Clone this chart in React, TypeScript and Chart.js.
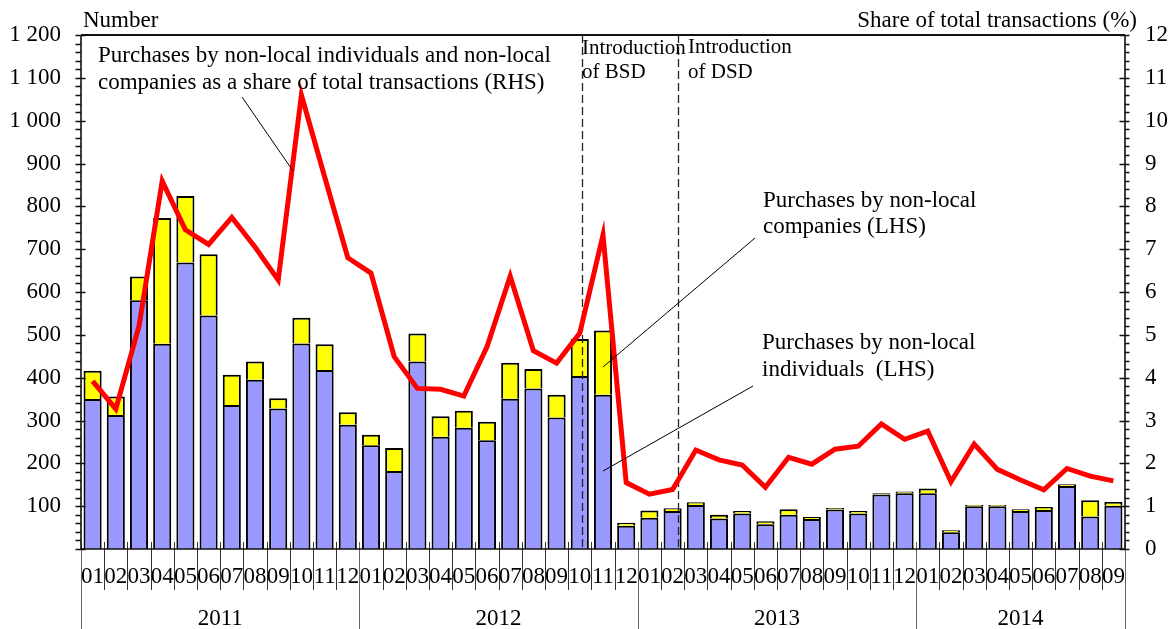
import React, { useEffect, useRef } from 'react';
import { Chart, registerables } from 'chart.js';

Chart.register(...registerables);

// ---------- data ----------
const years = ['2011', '2012', '2013', '2014'];
const monthsPerYear = [12, 12, 12, 9];
const monthLabels = [
  '01', '02', '03', '04', '05', '06', '07', '08', '09', '10', '11', '12',
  '01', '02', '03', '04', '05', '06', '07', '08', '09', '10', '11', '12',
  '01', '02', '03', '04', '05', '06', '07', '08', '09', '10', '11', '12',
  '01', '02', '03', '04', '05', '06', '07', '08', '09',
];
// Purchases by non-local individuals (LHS, number)
const individuals = [
  350, 313, 581, 479, 669, 545, 336, 395, 328, 480, 418, 290,
  242, 182, 438, 262, 283, 254, 351, 375, 307, 404, 360, 54,
  73, 89, 103, 71, 83, 58, 80, 70, 92, 83, 127, 130,
  130, 39, 100, 100, 89, 91, 147, 76, 101,
];
// Purchases by non-local companies (LHS, number)
const companies = [
  66, 43, 55, 294, 155, 143, 71, 43, 24, 60, 60, 29,
  25, 54, 65, 48, 40, 43, 84, 45, 53, 86, 150, 7,
  17, 6, 6, 9, 6, 7, 13, 5, 4, 6, 3, 4,
  11, 5, 3, 3, 4, 7, 4, 38, 9,
];
// Share of total transactions (RHS, %)
const shareOfTotal = [
  3.92, 3.27, 5.2, 8.59, 7.45, 7.11, 7.74, 7.05, 6.28, 10.6, 8.69, 6.8,
  6.44, 4.49, 3.75, 3.73, 3.57, 4.72, 6.37, 4.63, 4.34, 5.04, 7.33, 1.55,
  1.28, 1.39, 2.31, 2.08, 1.96, 1.44, 2.14, 1.98, 2.33, 2.4, 2.92, 2.56,
  2.75, 1.57, 2.45, 1.86, 1.61, 1.38, 1.88, 1.7, 1.59,
];
const leftMax = 1200;
const leftStep = 100;
const leftMinorStep = 20;
const rightMax = 12;
const rightStep = 1;
const rightMinorStep = 0.2;
// policy events (category position, fractional index)
const eventPositions = [21.1, 25.22];

const categories: string[] = [];
{
  let k = 0;
  years.forEach((y, yi) => {
    for (let m = 0; m < monthsPerYear[yi]; m++) {
      categories.push(y + '-' + monthLabels[k]);
      k++;
    }
  });
}

const FAMILY = "'Liberation Serif', 'Times New Roman', serif";
const FONT = "23px " + FAMILY;
const FONT_SMALL = "21px " + FAMILY;

const annotations = [
  { x: 98, ys: [62, 89], font: FONT, lines: ['Purchases by non-local individuals and non-local', 'companies as a share of total transactions (RHS)'] },
  { x: 582, ys: [54, 78], font: FONT_SMALL, lines: ['Introduction', 'of BSD'] },
  { x: 688, ys: [53, 78], font: FONT_SMALL, lines: ['Introduction', 'of DSD'] },
  { x: 763, ys: [207, 233], font: FONT, lines: ['Purchases by non-local', 'companies (LHS)'] },
  { x: 762, ys: [349, 376], font: FONT, lines: ['Purchases by non-local', 'individuals  (LHS)'] },
];
const leaders = [
  [242, 97, 293, 171],
  [755, 238, 603, 367],
  [753, 386, 603, 471],
];

function fmtThousands(v: number): string {
  if (v >= 1000) {
    return Math.floor(v / 1000) + ' ' + String(v % 1000).padStart(3, '0');
  }
  return String(v);
}

const overlayPlugin = {
  id: 'overlay',
  beforeDatasetDraw(chart: any, args: any) {
    if (args.index !== 2) return;
    const { ctx, chartArea, scales } = chart;
    ctx.save();
    ctx.setLineDash([8, 4]);
    ctx.strokeStyle = '#222';
    ctx.lineWidth = 1.3;
    for (const e of eventPositions) {
      const px = Math.round(scales.x.getPixelForValue(e)) + 0.5;
      ctx.beginPath();
      ctx.moveTo(px, chartArea.top);
      ctx.lineTo(px, chartArea.bottom);
      ctx.stroke();
    }
    ctx.restore();
  },
  afterDraw(chart: any) {
    const { ctx, chartArea, scales } = chart;
    const { left, right, top, bottom } = chartArea;
    const H = chart.height;
    const xs = scales.x;
    const yL = scales.y;
    const yR = scales.y1;
    ctx.save();

    // lower extensions of axis lines + year separators
    ctx.strokeStyle = '#666';
    ctx.lineWidth = 1;
    const bounds: number[] = [0];
    let acc = 0;
    monthsPerYear.forEach((n) => { acc += n; bounds.push(acc); });
    bounds.forEach((b) => {
      const px = Math.round(xs.getPixelForValue(b - 0.5)) + 0.5;
      ctx.beginPath();
      ctx.moveTo(px, bottom - 7);
      ctx.lineTo(px, H);
      ctx.stroke();
    });
    // month separators
    ctx.strokeStyle = '#333';
    for (let i = 1; i < categories.length; i++) {
      if (bounds.includes(i)) continue;
      const px = Math.round(xs.getPixelForValue(i - 0.5)) + 0.5;
      ctx.beginPath();
      ctx.moveTo(px, bottom - 7);
      ctx.lineTo(px, bottom + 41);
      ctx.stroke();
    }

    // frame
    ctx.strokeStyle = '#111';
    ctx.lineWidth = 2;
    ctx.beginPath();
    ctx.moveTo(left, top);
    ctx.lineTo(right, top);
    ctx.stroke();
    ctx.lineWidth = 1.6;
    ctx.beginPath();
    ctx.moveTo(left, bottom);
    ctx.lineTo(right, bottom);
    ctx.moveTo(left, top);
    ctx.lineTo(left, bottom);
    ctx.moveTo(right, top);
    ctx.lineTo(right, bottom);
    ctx.stroke();

    // y tick marks
    ctx.lineWidth = 1.3;
    ctx.beginPath();
    for (let v = 0; v <= leftMax + 1e-6; v += leftMinorStep) {
      const py = Math.round(yL.getPixelForValue(v)) + 0.5;
      const major = Math.abs(v / leftStep - Math.round(v / leftStep)) < 1e-6;
      ctx.moveTo(left - 5.5, py);
      ctx.lineTo(major ? left + 4.5 : left, py);
    }
    for (let k = 0; k <= Math.round(rightMax / rightMinorStep); k++) {
      const v = k * rightMinorStep;
      const py = Math.round(yR.getPixelForValue(v)) + 0.5;
      const major = k % Math.round(rightStep / rightMinorStep) === 0;
      ctx.moveTo(major ? right - 5.5 : right, py);
      ctx.lineTo(right + 4.5, py);
    }
    ctx.stroke();

    // x labels
    ctx.fillStyle = '#000';
    ctx.font = FONT;
    ctx.textAlign = 'center';
    ctx.textBaseline = 'alphabetic';
    monthLabels.forEach((m, i) => {
      ctx.fillText(m, xs.getPixelForValue(i), bottom + 34);
    });
    years.forEach((y, yi) => {
      const c = (xs.getPixelForValue(bounds[yi] - 0.5) + xs.getPixelForValue(bounds[yi + 1] - 0.5)) / 2;
      ctx.fillText(y, c, bottom + 76);
    });

    // axis titles
    ctx.textAlign = 'left';
    ctx.fillText('Number', left + 2, 27);
    ctx.textAlign = 'right';
    ctx.fillText('Share of total transactions (%)', right + 12, 27);

    // annotations
    ctx.textAlign = 'left';
    annotations.forEach((a) => {
      ctx.font = a.font;
      a.lines.forEach((t, i) => ctx.fillText(t, a.x, a.ys[i]));
    });
    ctx.strokeStyle = '#000';
    ctx.lineWidth = 1;
    leaders.forEach(([x1, y1, x2, y2]) => {
      ctx.beginPath();
      ctx.moveTo(x1, y1);
      ctx.lineTo(x2, y2);
      ctx.stroke();
    });
    ctx.restore();
  },
};

export default function App() {
  const ref = useRef<HTMLCanvasElement | null>(null);
  useEffect(() => {
    if (!ref.current) return;
    const chart = new Chart(ref.current, {
      type: 'bar',
      data: {
        labels: categories,
        datasets: [
          {
            type: 'bar',
            label: 'Purchases by non-local individuals (LHS)',
            data: individuals,
            backgroundColor: '#9999FF',
            borderColor: '#000',
            borderWidth: 2,
            yAxisID: 'y',
            order: 1,
            barPercentage: 0.78,
            categoryPercentage: 1,
          },
          {
            type: 'bar',
            label: 'Purchases by non-local companies (LHS)',
            data: companies,
            backgroundColor: '#FFFF00',
            borderColor: '#000',
            borderWidth: 2,
            yAxisID: 'y',
            order: 1,
            barPercentage: 0.78,
            categoryPercentage: 1,
          },
          {
            type: 'line',
            label: 'Share of total transactions (RHS)',
            data: shareOfTotal,
            borderColor: '#FF0000',
            backgroundColor: '#FF0000',
            borderWidth: 5,
            pointRadius: 0,
            tension: 0,
            yAxisID: 'y1',
            order: 0,
          } as any,
        ],
      },
      options: {
        animation: false,
        responsive: false,
        devicePixelRatio: 1,
        layout: { padding: { top: 35, bottom: 80, left: 0, right: 0 } },
        plugins: { legend: { display: false }, tooltip: { enabled: false }, title: { display: false } },
        scales: {
          x: {
            type: 'category',
            display: false,
            stacked: true,
            offset: true,
          },
          y: {
            position: 'left',
            stacked: true,
            min: 0,
            max: leftMax,
            grid: { display: false, drawTicks: false },
            border: { display: false },
            ticks: {
              stepSize: leftStep,
              maxTicksLimit: 50,
              autoSkip: false,
              padding: 20,
              color: '#000',
              font: { family: FAMILY, size: 23 },
              callback: (v: any) => (Number(v) === 0 ? '' : fmtThousands(Number(v))),
            },
            afterFit: (s: any) => { s.width = 81; },
          },
          y1: {
            position: 'right',
            min: 0,
            max: rightMax,
            grid: { display: false, drawTicks: false },
            border: { display: false },
            ticks: {
              stepSize: rightStep,
              maxTicksLimit: 50,
              autoSkip: false,
              padding: 20,
              color: '#000',
              font: { family: FAMILY, size: 23 },
            },
            afterFit: (s: any) => { s.width = 49; },
          },
        },
      } as any,
      plugins: [overlayPlugin],
    });
    return () => chart.destroy();
  }, []);
  return (
    <div style={{ position: 'absolute', left: 0, top: 0, width: 1174, height: 629, background: '#fff' }}>
      <canvas ref={ref} width={1174} height={629} style={{ width: 1174, height: 629, display: 'block' }} />
    </div>
  );
}
